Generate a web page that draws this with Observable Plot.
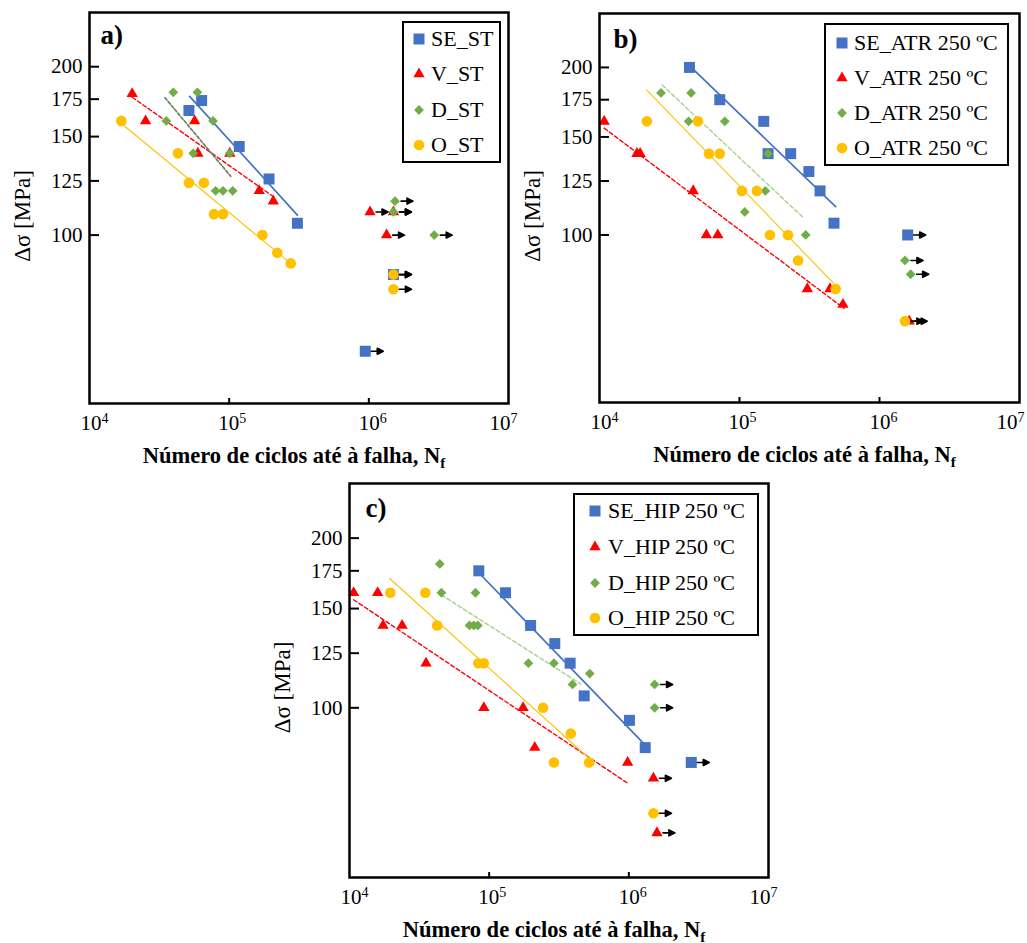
<!DOCTYPE html>
<html>
<head>
<meta charset="utf-8">
<script src="https://cdn.jsdelivr.net/npm/d3@7"></script>
<script src="https://cdn.jsdelivr.net/npm/@observablehq/plot@0.6"></script>
<style>
  html, body { margin: 0; padding: 0; background: #fff; }
  body { width: 1027px; height: 943px; position: relative; overflow: hidden;
         font-family: "Liberation Serif", "Times New Roman", serif; }
  .panel { position: absolute; }
  .legend { position: absolute; border: 2px solid #000; background: #fff; box-sizing: border-box; }
  .legend .mk { position: absolute; width: 16px; height: 16px; }
  .legend .lb { position: absolute; font-size: 22px; line-height: 22px; white-space: nowrap; color: #000; }
</style>
</head>
<body>
<script>
// ---------------- DATA (N = cycles, S = stress range in MPa) ----------------
// Panel a) ST
const SE_ST = [[51500,167],[63500,174],[118000,144],[193000,126],[308000,105]];
const SE_ST_runout = [[943000,62],[1500000,85]];
const V_ST = [[20200,179],[25200,160],[56600,160],[59700,140],[101000,140],[164000,120],[207000,115]];
const V_ST_runout = [[1020000,110],[1500000,110],[1340000,100]];
const D_ST = [[39800,180],[59200,180],[35500,160],[76600,160],[55300,140],[101000,140],[80000,120],[90300,120],[106000,120]];
const D_ST_runout = [[1540000,115],[1500000,110],[2940000,100]];
const O_ST = [[16900,160],[43000,140],[51500,124],[65900,124],[77800,109],[90300,109],[173000,100],[221000,93],[276000,89]];
const O_ST_runout = [[1500000,85],[1500000,80]];
const SE_ST_fit = [[52100,177],[308000,108.6]];
const V_ST_fit = [[20200,176.4],[209000,117]];
const D_ST_fit = [[34700,176],[102600,127.4]];
const O_ST_fit = [[17100,158],[276000,89]];

// Panel b) ATR 250 ºC
const SE_ATR = [[43900,200],[72300,175],[149000,160],[160000,140],[232000,140],[313000,130],[376000,120],[473000,105]];
const SE_ATR_runout = [[1590000,100]];
const V_ATR = [[10800,160],[18500,140],[19500,140],[46700,120],[58000,100],[70000,100],[305000,80],[443000,80],[548000,75]];
const V_ATR_runout = [[1630000,70]];
const D_ATR = [[27500,180],[45100,180],[43300,160],[78500,160],[160000,140],[153000,120],[109000,110],[297000,100]];
const D_ATR_runout = [[1520000,90],[1670000,85]];
const O_ATR = [[21800,160],[50500,160],[60500,140],[72300,140],[104000,120],[133000,120],[165000,100],[222000,100],[262000,90],[486000,80]];
const O_ATR_runout = [[1520000,70]];
const SE_ATR_fit = [[45800,199.5],[486000,112.4]];
const V_ATR_fit = [[10800,155.6],[558000,73.8]];
const D_ATR_fit = [[28000,186],[288000,107.2]];
const O_ATR_fit = [[21700,182.3],[469000,81.9]];

// Panel c) HIP 250 ºC
const SE_HIP = [[84300,175],[131000,160],[198000,140],[295000,130],[380000,120],[479000,105],[1010000,95],[1310000,85]];
const SE_HIP_runout = [[2800000,80]];
const V_HIP = [[10700,160],[15900,160],[17400,140],[23800,140],[35300,120],[91600,100],[175000,100],[212000,85],[980000,80]];
const V_HIP_runout = [[1500000,75],[1590000,60]];
const D_HIP = [[44300,180],[45500,160],[79800,160],[72300,140],[77600,140],[83000,140],[191000,120],[291000,120],[395000,110],[525000,115]];
const D_HIP_runout = [[1530000,110],[1530000,100]];
const O_HIP = [[19600,160],[34900,160],[42400,140],[83600,120],[91600,120],[243000,100],[384000,90],[291000,80],[520000,80]];
const O_HIP_runout = [[1500000,65]];
const SE_HIP_fit = [[84300,173.6],[1290000,86.2]];
const V_HIP_fit = [[10700,155.5],[980000,73.5]];
const D_HIP_fit = [[45500,158.6],[453000,110.2]];
const O_HIP_fit = [[19400,169.6],[535000,80.8]];

// Axes / labels
const xTicks = [1e4, 1e5, 1e6, 1e7];
const yTicks = [100, 125, 150, 175, 200];
const xDomain = [1e4, 1e7];
const yDomain = [50, 250];
const xTitle = "Número de ciclos até à falha, N";
const xTitleSub = "f";
const yTitle = "Δσ [MPa]";
const legendA = ["SE_ST", "V_ST", "D_ST", "O_ST"];
const legendB = ["SE_ATR 250 ºC", "V_ATR 250 ºC", "D_ATR 250 ºC", "O_ATR 250 ºC"];
const legendC = ["SE_HIP 250 ºC", "V_HIP 250 ºC", "D_HIP 250 ºC", "O_HIP 250 ºC"];

// ---------------- STYLE ----------------
const KEYS = ["SE", "V", "D", "O"];
const COLOR = {SE: "#4472C4", V: "#FF0000", D: "#70AD47", O: "#FFC000"};
const SYMBOL = {SE: "square", V: "triangle", D: "diamond2", O: "circle"};
const D3SYMBOL = {SE: d3.symbolSquare, V: d3.symbolTriangle, D: d3.symbolDiamond2, O: d3.symbolCircle};
const RADIUS = {SE: 6.2, V: 4.2, D: 4.4, O: 5.3};
const FONT = "Liberation Serif, Times New Roman, serif";
const SUP = {"⁴": "4", "⁵": "5", "⁶": "6", "⁷": "7"};
const SUPCHAR = {4: "⁴", 5: "⁵", 6: "⁶", 7: "⁷"};

const arrowShape = {
  draw(context, l) {
    context.moveTo(0, 0);
    context.lineTo(0, -l + 5);
    context.moveTo(-3, -l + 6);
    context.lineTo(0, -l);
    context.lineTo(3, -l + 6);
    context.closePath();
  }
};

function makePanel(cfg) {
  const {left, top, width, height, margin, series, fits, dFit, label, labelDx, labelDy, yTitleDy, tickDx} = cfg;
  const marks = [];
  const fitStyle = {
    SE: {stroke: COLOR.SE, strokeWidth: 1.7},
    V: {stroke: COLOR.V, strokeWidth: 1.4, strokeDasharray: "4,2.5"},
    D: dFit,
    O: {stroke: COLOR.O, strokeWidth: 1.1}
  };
  for (const k of KEYS) {
    marks.push(Plot.line(fits[k], {x: d => d[0], y: d => d[1], ...fitStyle[k]}));
  }
  const allRunouts = [];
  for (const k of KEYS) {
    const [pts, run] = series[k];
    marks.push(Plot.dot(pts.concat(run), {
      x: d => d[0], y: d => d[1], symbol: SYMBOL[k], r: RADIUS[k], fill: COLOR[k], stroke: "none"
    }));
    for (const p of run) allRunouts.push(p);
  }
  let vec;
  try {
    vec = Plot.vector(allRunouts, {x: d => d[0], y: d => d[1], rotate: 90, length: 12, anchor: "start",
      dx: 6, shape: arrowShape, stroke: "black", fill: "black", strokeWidth: 1.6});
  } catch (e) {
    vec = Plot.vector(allRunouts, {x: d => d[0], y: d => d[1], rotate: 90, length: 12, anchor: "start",
      dx: 6, stroke: "black", strokeWidth: 1.6});
  }
  marks.push(vec);
  marks.push(Plot.frame({stroke: "black", strokeWidth: 2.5}));
  marks.push(Plot.axisY(yTicks, {tickSize: 10, dx: 10, fill: "none", strokeWidth: 2}));
  marks.push(Plot.axisY(yTicks, {tickSize: 0, tickPadding: 7, fontSize: 21, fontFamily: FONT, fill: "black"}));
  marks.push(Plot.axisX(xTicks.slice(1, 3), {tickSize: 5, dy: -5, fill: "none", strokeWidth: 2}));
  xTicks.forEach((t, i) => {
    marks.push(Plot.axisX([t], {tickSize: 0, tickPadding: 12, fontSize: 21, fontFamily: FONT, fill: "black",
      dx: tickDx[i], tickFormat: d => "10" + SUPCHAR[Math.round(Math.log10(d))]}));
  });
  marks.push(Plot.text([xTitle], {frameAnchor: "bottom", dy: 59, lineAnchor: "bottom", textAnchor: "middle",
    fontSize: 22.5, fontWeight: "bold", fontFamily: FONT, fill: "black", text: d => d, dx: -5}));
  marks.push(Plot.text([yTitle], {frameAnchor: "left", rotate: -90, dx: -67, dy: yTitleDy, lineAnchor: "middle",
    textAnchor: "middle", fontSize: 23, fontFamily: FONT, fill: "black", text: d => d}));
  marks.push(Plot.text([label], {frameAnchor: "top-left", dx: labelDx, dy: labelDy, lineAnchor: "bottom",
    textAnchor: "start", fontSize: 27, fontWeight: "bold", fontFamily: FONT, fill: "black", text: d => d}));

  const svg = Plot.plot({
    width, height,
    marginTop: margin.top, marginRight: margin.right, marginBottom: margin.bottom, marginLeft: margin.left,
    x: {type: "log", domain: xDomain, axis: null},
    y: {type: "log", domain: yDomain, axis: null},
    style: {background: "transparent", fontFamily: FONT, color: "black", overflow: "visible"},
    marks
  });

  d3.select(svg).selectAll("text").each(function () {
    const t = this.textContent;
    if (/^10[⁴⁵⁶⁷]$/.test(t)) {
      this.textContent = "";
      const s = d3.select(this);
      s.append("tspan").text("10");
      s.append("tspan").attr("dy", "-7").attr("font-size", "14px").text(SUP[t[2]]);
    } else if (t === xTitle) {
      d3.select(this).append("tspan").attr("dy", "5").attr("font-size", "15px").text(xTitleSub);
    }
  });

  const div = document.createElement("div");
  div.className = "panel";
  div.style.left = left + "px";
  div.style.top = top + "px";
  div.appendChild(svg);
  document.body.appendChild(div);
}

function makeLegend(cfg) {
  const {left, top, width, height, markerX, textX, rows, labels} = cfg;
  const box = document.createElement("div");
  box.className = "legend";
  Object.assign(box.style, {left: left + "px", top: top + "px", width: width + "px", height: height + "px"});
  labels.forEach((lab, i) => {
    const k = KEYS[i];
    const cy = rows[i];
    const mk = d3.create("svg").attr("class", "mk").attr("width", 16).attr("height", 16)
      .style("left", (markerX - 8) + "px").style("top", (cy - 8) + "px");
    mk.append("path").attr("transform", "translate(8,8)")
      .attr("d", d3.symbol(D3SYMBOL[k], Math.PI * RADIUS[k] * RADIUS[k])())
      .attr("fill", COLOR[k]);
    box.appendChild(mk.node());
    const lb = document.createElement("div");
    lb.className = "lb";
    lb.textContent = lab;
    lb.style.left = textX + "px";
    lb.style.top = (cy - 11) + "px";
    box.appendChild(lb);
  });
  document.body.appendChild(box);
}

makePanel({
  left: 0, top: 0, width: 520, height: 470,
  margin: {top: 12, right: 12, bottom: 67, left: 89},
  series: {SE: [SE_ST, SE_ST_runout], V: [V_ST, V_ST_runout], D: [D_ST, D_ST_runout], O: [O_ST, O_ST_runout]},
  fits: {SE: SE_ST_fit, V: V_ST_fit, D: D_ST_fit, O: O_ST_fit},
  dFit: {stroke: "#6a8060", strokeWidth: 1.7, strokeDasharray: "3,2"},
  label: "a)", labelDx: 11, labelDy: 31, yTitleDy: 8, tickDx: [5, 3, 4, -5]
});
makePanel({
  left: 510, top: 0, width: 517, height: 470,
  margin: {top: 13, right: 8, bottom: 68, left: 89},
  series: {SE: [SE_ATR, SE_ATR_runout], V: [V_ATR, V_ATR_runout], D: [D_ATR, D_ATR_runout], O: [O_ATR, O_ATR_runout]},
  fits: {SE: SE_ATR_fit, V: V_ATR_fit, D: D_ATR_fit, O: O_ATR_fit},
  dFit: {stroke: "#A9D18E", strokeWidth: 1.4, strokeDasharray: "4,2.5"},
  label: "b)", labelDx: 14, labelDy: 34, yTitleDy: 8, tickDx: [5, 3, 4, -9]
});
makePanel({
  left: 260, top: 470, width: 520, height: 473,
  margin: {top: 13, right: 12, bottom: 66, left: 89},
  series: {SE: [SE_HIP, SE_HIP_runout], V: [V_HIP, V_HIP_runout], D: [D_HIP, D_HIP_runout], O: [O_HIP, O_HIP_runout]},
  fits: {SE: SE_HIP_fit, V: V_HIP_fit, D: D_HIP_fit, O: O_HIP_fit},
  dFit: {stroke: "#A9D18E", strokeWidth: 1.4, strokeDasharray: "4,2.5"},
  label: "c)", labelDx: 16, labelDy: 33, yTitleDy: 7, tickDx: [5, 3, 4, -5]
});

makeLegend({left: 402, top: 21, width: 99, height: 142, markerX: 15, textX: 27, rows: [16, 51, 87, 122], labels: legendA});
makeLegend({left: 824, top: 23, width: 185, height: 143, markerX: 16, textX: 28, rows: [18, 53, 88, 123], labels: legendB});
makeLegend({left: 573, top: 493, width: 186, height: 143, markerX: 20, textX: 33, rows: [16, 52, 88, 123], labels: legendC});
</script>
</body>
</html>
